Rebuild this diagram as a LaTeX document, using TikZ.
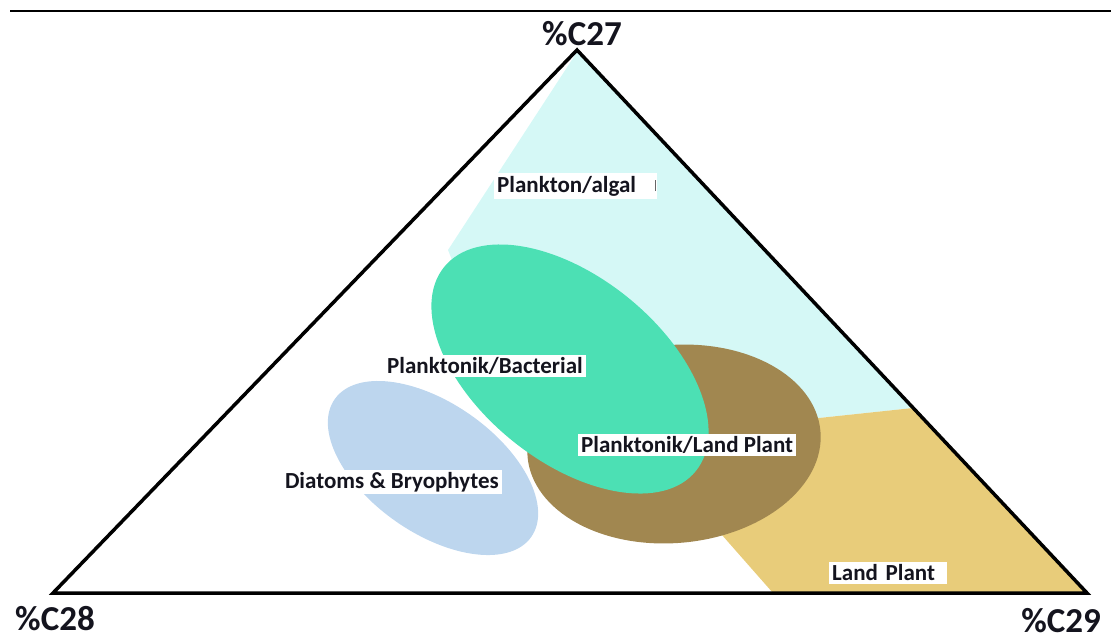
\documentclass[tikz,border=0pt]{standalone}
\usepackage{fontspec}
\setmainfont{Carlito}
\definecolor{cyanreg}{RGB}{213,248,246}
\definecolor{greenreg}{RGB}{76,224,180}
\definecolor{brownreg}{RGB}{161,135,80}
\definecolor{bluereg}{RGB}{189,214,238}
\definecolor{yellowreg}{RGB}{232,204,122}
\definecolor{labtext}{RGB}{20,20,30}
\begin{document}
\begin{tikzpicture}[x=1pt,y=-1pt,
  lab/.style={fill=white, font=\bfseries\fontsize{23}{25}\selectfont, inner xsep=3pt, inner ysep=2.5pt, text=labtext},
  corner/.style={font=\bfseries\fontsize{35}{38}\selectfont, inner sep=0pt, text=labtext}]
\useasboundingbox (0,0) rectangle (1111,641);
\coordinate (A) at (577,50);
\coordinate (B) at (53,593);
\coordinate (C) at (1087,593);
\coordinate (tl) at (10,11);
\coordinate (tr) at (1111,11);
% regions
\fill[cyanreg] (577,52) -- (913,408) -- (800,420) -- (700,400) -- (560,340) -- (460,280) -- (448,250) -- cycle;
\fill[yellowreg] (913,408) -- (1087,593) -- (773,593) -- (700,510) -- (800,420) -- cycle;
\fill[bluereg, rotate around={-35:(433,468)}] (433,468) ellipse [x radius=120pt, y radius=65pt];
\fill[brownreg, rotate around={5:(674,444)}] (674,444) ellipse [x radius=147pt, y radius=99pt];
\fill[greenreg, rotate around={-39:(570,369)}] (570,369) ellipse [x radius=162pt, y radius=92pt];
% frame
\draw[line width=2.5pt] (tl) -- (tr);
\draw[line width=3.5pt, line join=miter] (A) -- (B) -- (C) -- cycle;
% labels
\node[lab, anchor=west, text width=157pt, align=left] (pa) at (494,186) {Plankton/algal};
\draw[black!60, line width=1pt] ([xshift=-2pt,yshift=-5pt]pa.east) -- ([xshift=-2pt,yshift=6pt]pa.east);
\node[lab, anchor=west] (pb) at (384,366) {Planktonik/Bacterial};
\node[lab, anchor=west] (pl) at (578,445) {Planktonik/Land Plant};
\node[lab, anchor=east] (db) at (502,482) {Diatoms \& Bryophytes};
\node[lab, anchor=west, text width=112pt, align=left] (lp) at (829,573) {Land Plant};
\node[corner] (c27) at (582,34) {\%C27};
\node[corner] (c28) at (55,619) {\%C28};
\node[corner] (c29) at (1061,621) {\%C29};
\end{tikzpicture}
\end{document}
